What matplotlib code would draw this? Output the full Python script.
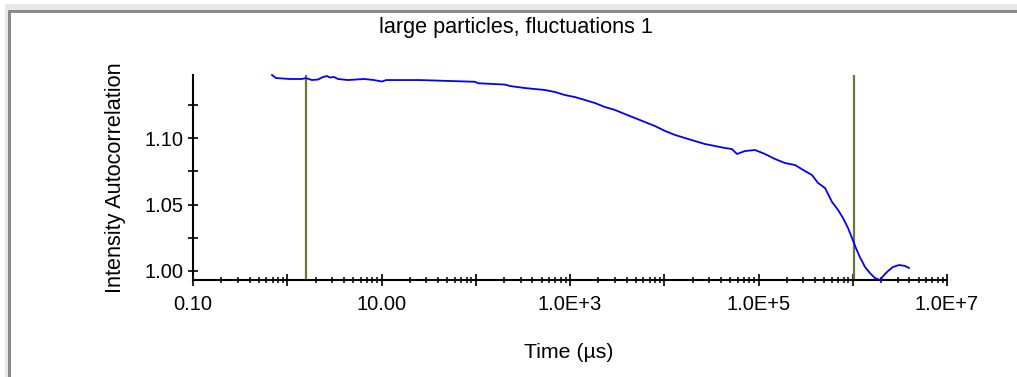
import numpy as np
import matplotlib
matplotlib.use("Agg")
import matplotlib.pyplot as plt
from matplotlib.patches import Rectangle
from matplotlib.ticker import FixedLocator, FixedFormatter, NullFormatter

plt.rcParams['font.family'] = ['Liberation Sans', 'DejaVu Sans']

# ---- data ----
title = "large particles, fluctuations 1"
x_label = "Time (µs)"
y_label = "Intensity Autocorrelation"

time_us = [0.689, 0.760, 1.07, 1.43, 1.58, 1.83, 2.12, 2.40, 2.64, 2.84, 3.13, 3.45,
           4.41, 6.52, 8.32, 10.1, 11.2, 25.6, 98.2, 106, 204, 231, 333, 543, 693,
           886, 1130, 1443, 1841, 2350, 3000, 3834, 4894, 6249, 7976, 10190, 13000,
           16600, 21200, 27000, 34500, 44100, 52300, 59100, 71900, 91800, 117000,
           150000, 191000, 244000, 311000, 369000, 428000, 508000, 603000, 698000,
           789000, 891000, 982000, 1.08e6, 1.19e6, 1.35e6, 1.52e6, 1.72e6, 1.95e6,
           2.15e6, 2.37e6, 2.67e6, 3.10e6, 3.58e6, 3.95e6]
g2 = [1.1474, 1.1451, 1.1444, 1.1444, 1.1451, 1.1436, 1.1440, 1.1459, 1.1466, 1.1455,
      1.1459, 1.1444, 1.1436, 1.1444, 1.1436, 1.1425, 1.1436, 1.1436, 1.1423, 1.1412,
      1.1402, 1.1391, 1.1376, 1.1361, 1.1346, 1.1323, 1.1308, 1.1286, 1.1263, 1.1233,
      1.1211, 1.1180, 1.1150, 1.1120, 1.1090, 1.1053, 1.1023, 1.1000, 1.0977, 1.0955,
      1.0940, 1.0925, 1.0917, 1.0880, 1.0902, 1.0910, 1.0880, 1.0842, 1.0812, 1.0797,
      1.0752, 1.0722, 1.0662, 1.0624, 1.0519, 1.0459, 1.0398, 1.0323, 1.0248, 1.0173,
      1.0105, 1.0030, 0.9985, 0.9947, 0.9932, 0.9970, 1.0000, 1.0030, 1.0045, 1.0038,
      1.0023]

cursor_times = [1.6, 1.04e6]

x_major = [1e-1, 1e0, 1e1, 1e2, 1e3, 1e4, 1e5, 1e6, 1e7]
x_major_labels = ["0.10", "", "10.00", "", "1.0E+3", "", "1.0E+5", "", "1.0E+7"]
y_major = [1.00, 1.05, 1.10]
y_major_labels = ["1.00", "1.05", "1.10"]
y_minor = [1.025, 1.075, 1.125]

# ---- figure ----
W, H = 1017, 377
fig = plt.figure(figsize=(W / 100, H / 100), dpi=100)
fig.patch.set_facecolor("white")

def px_rect(x0, y0, x1, y1, color):
    fig.add_artist(Rectangle((x0 / W, 1 - y1 / H), (x1 - x0) / W, (y1 - y0) / H,
                             transform=fig.transFigure, facecolor=color,
                             edgecolor="none", zorder=0))

# window frame
px_rect(5, 4, W, 10, "#e8e8e8")
px_rect(5, 4, 8, H, "#e8e8e8")
px_rect(8, 10, W, 13, "#8a8a8a")
px_rect(8, 10, 11, H, "#8a8a8a")

ax_l, ax_r, ax_t, ax_b = 193, 947, 75, 280
ax = fig.add_axes([ax_l / W, 1 - ax_b / H, (ax_r - ax_l) / W, (ax_b - ax_t) / H])
ax.set_facecolor("none")

ax.plot(time_us, g2, color="#0000ff", lw=1.3, clip_on=False, zorder=3)
for t in cursor_times:
    ax.axvline(t, color="#667a3c", lw=1.6, zorder=2)

ax.set_xscale("log")
ax.set_xlim(1e-1, 1e7)
ax.set_ylim(0.99323, 1.1474)

for s in ["top", "right"]:
    ax.spines[s].set_visible(False)
for s in ["left", "bottom"]:
    ax.spines[s].set_linewidth(1.5)
    ax.spines[s].set_color("black")

ax.xaxis.set_major_locator(FixedLocator(x_major))
ax.xaxis.set_major_formatter(FixedFormatter(x_major_labels))
x_minor = [m * d for d in x_major[:-1] for m in range(2, 10)]
ax.xaxis.set_minor_locator(FixedLocator(x_minor))
ax.xaxis.set_minor_formatter(NullFormatter())

ax.yaxis.set_major_locator(FixedLocator(y_major))
ax.yaxis.set_major_formatter(FixedFormatter(y_major_labels))
ax.yaxis.set_minor_locator(FixedLocator(y_minor))

ax.tick_params(axis="x", which="major", direction="inout", length=8, width=1.2,
               labelsize=14.5, pad=7)
ax.tick_params(axis="x", which="minor", direction="inout", length=4.5, width=1.1)
ax.tick_params(axis="y", which="both", direction="inout", length=7.5, width=1.2,
               labelsize=14.5, pad=3)

fig.text(516 / W, 1 - 28 / H, title, ha="center", va="center", fontsize=15.6)
fig.text(569 / W, 1 - 352 / H, x_label, ha="center", va="center", fontsize=15.3)
fig.text(115 / W, 1 - 178 / H, y_label, ha="center", va="center", rotation=90,
         fontsize=15.6)

fig.savefig("out.png", dpi=100)
